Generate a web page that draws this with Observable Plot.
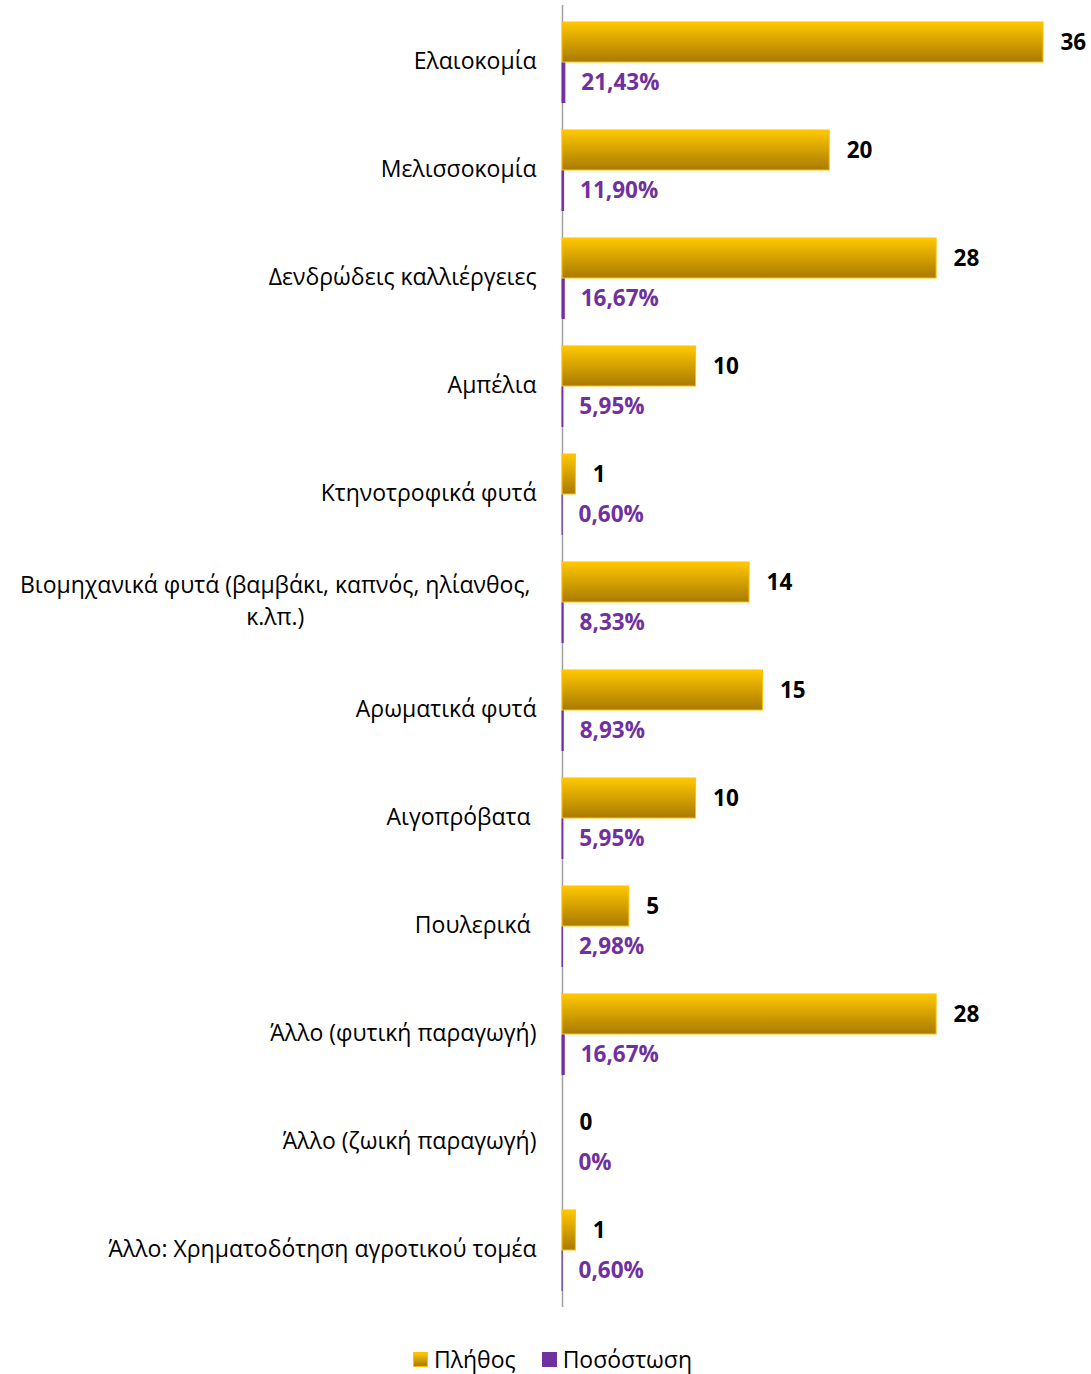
<!DOCTYPE html>
<html><head><meta charset="utf-8">
<script src="https://cdn.jsdelivr.net/npm/d3@7"></script>
<script src="https://cdn.jsdelivr.net/npm/@observablehq/plot@0.6"></script>
<style>
body{margin:0;background:#fff;font-family:"Open Sans",sans-serif;}
#legend{display:flex;justify-content:center;align-items:center;font-size:23px;color:#000;margin-top:23px;padding-left:14px;}
.item{display:flex;align-items:center;margin:0 13px;}
.sw{width:15px;height:15px;margin-right:6px;box-sizing:border-box;}
</style></head><body><div id="chart"></div><div id="legend"></div>
<script>
const categories = [
  "Ελαιοκομία",
  "Μελισσοκομία",
  "Δενδρώδεις καλλιέργειες",
  "Αμπέλια",
  "Κτηνοτροφικά φυτά",
  "Βιομηχανικά φυτά (βαμβάκι, καπνός, ηλίανθος,\nκ.λπ.)",
  "Αρωματικά φυτά",
  "Αιγοπρόβατα\u00a0",
  "Πουλερικά\u00a0",
  "Άλλο (φυτική παραγωγή)",
  "Άλλο (ζωική παραγωγή)",
  "Άλλο: Χρηματοδότηση αγροτικού τομέα"
];
const counts = [36, 20, 28, 10, 1, 14, 15, 10, 5, 28, 0, 1];
const shares = [0.2143, 0.1190, 0.1667, 0.0595, 0.0060, 0.0833, 0.0893, 0.0595, 0.0298, 0.1667, 0, 0.0060];
const seriesNames = ["Πλήθος", "Ποσόστωση"];

const GOLD_TOP = "#FFC800", GOLD_BOTTOM = "#A97A00", GOLD_EDGE = "#FFC000", PURPLE = "#7030A0";

const rows = categories.map((c, i) => ({cat: c, count: counts[i], share: shares[i]}));
const fmtPct = v => v === 0 ? "0%" : (v * 100).toFixed(2).replace(".", ",") + "%";

const defs = () => {
  const s = d3.create("svg:defs");
  const g = s.append("linearGradient").attr("id", "goldGrad").attr("x1", 0).attr("y1", 0).attr("x2", 0).attr("y2", 1);
  g.append("stop").attr("offset", "0%").attr("stop-color", GOLD_TOP);
  g.append("stop").attr("offset", "100%").attr("stop-color", GOLD_BOTTOM);
  return s.node();
};

const chart = Plot.plot({
  width: 1091, height: 1320,
  marginLeft: 562, marginRight: 48, marginTop: 5, marginBottom: 13,
  style: {fontFamily: "'Open Sans', sans-serif", fontSize: "23px", color: "#000", background: "#fff"},
  x: {domain: [0, 36], axis: null},
  y: {domain: categories, padding: 0, label: null, axis: null},
  marks: [
    defs,
    Plot.ruleX([0], {stroke: "#A0A0A0", strokeWidth: 1.5}),
    Plot.barX(rows, {x: "count", y: "cat", fill: "url(#goldGrad)", stroke: GOLD_EDGE, strokeWidth: 1, insetTop: 14, insetBottom: 54}),
    Plot.barX(rows, {x: "share", y: "cat", fill: PURPLE, stroke: PURPLE, strokeWidth: 1, insetTop: 55, insetBottom: 13.5}),
    Plot.axisY({tickSize: 0, tickPadding: 26, fontSize: 23, lineHeight: 1.4, dy: -4, fill: "#000", label: null}),
    Plot.text(rows, {x: "count", y: "cat", text: d => String(d.count), dx: 17, dy: -20, textAnchor: "start", fontWeight: "bold", fontSize: 22.5, fill: "#000"}),
    Plot.text(rows, {x: "share", y: "cat", text: d => fmtPct(d.share), dx: 16, dy: 20, textAnchor: "start", fontWeight: "bold", fontSize: 22.5, fill: PURPLE})
  ]
});
document.getElementById("chart").append(chart);

// center multi-line category labels like the original
chart.querySelectorAll("g[aria-label='y-axis tick label'] text").forEach(t => {
  const sp = t.querySelectorAll("tspan");
  if (sp.length > 1) {
    let w = 0;
    sp.forEach(s => w = Math.max(w, s.getComputedTextLength()));
    t.setAttribute("text-anchor", "middle");
    sp.forEach(s => s.setAttribute("x", -w / 2 - 6));
  }
});

const legend = document.getElementById("legend");
const swatchStyles = [
  `background:linear-gradient(${GOLD_TOP},${GOLD_BOTTOM});border:1px solid ${GOLD_EDGE};`,
  `background:${PURPLE};`
];
seriesNames.forEach((name, i) => {
  const it = document.createElement("div");
  it.className = "item";
  it.innerHTML = `<span class="sw" style="${swatchStyles[i]}"></span><span>${name}</span>`;
  legend.append(it);
});
</script>
</body></html>
